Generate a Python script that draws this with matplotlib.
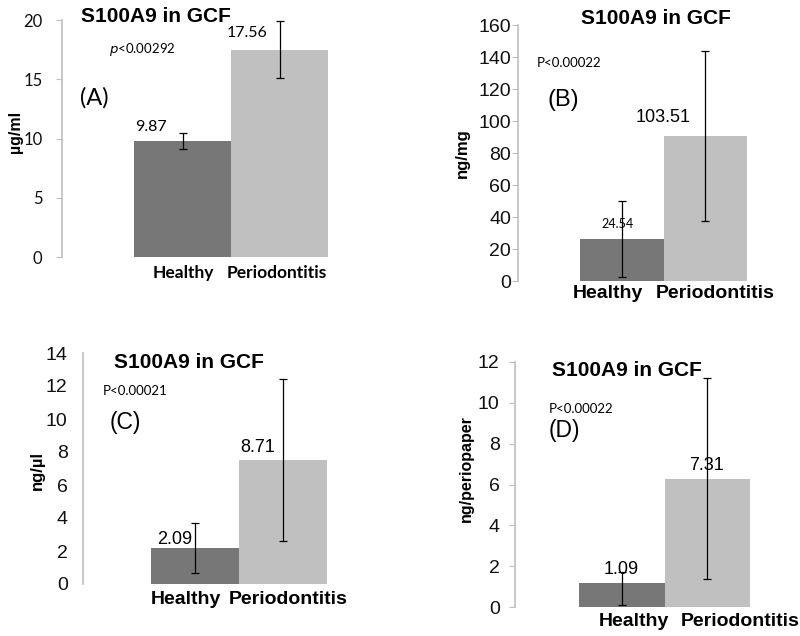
import numpy as np
import matplotlib.pyplot as plt

groups = ["Healthy", "Periodontitis"]

# (A) ug/ml
a_vals = [9.8, 17.5]
a_err_lo = [0.7, 2.4]
a_err_hi = [0.7, 2.4]
a_labels = ["9.87", "17.56"]
a_p = "$p$<0.00292"

# (B) ng/mg
b_vals = [26.2, 90.8]
b_err_lo = [24, 53]
b_err_hi = [24, 53]
b_labels = ["24.54", "103.51"]
b_p = "P<0.00022"

# (C) ng/ul
c_vals = [2.18, 7.53]
c_err_lo = [1.5, 4.9]
c_err_hi = [1.5, 4.9]
c_labels = ["2.09", "8.71"]
c_p = "P<0.00021"

# (D) ng/periopaper
d_vals = [1.18, 6.29]
d_err_lo = [1.1, 4.93]
d_err_hi = [0.53, 4.92]
d_labels = ["1.09", "7.31"]
d_p = "P<0.00022"

title = "S100A9 in GCF"
dark = "#777777"
light = "#c0c0c0"
axgrey = "#bfbfbf"

W, H = 800, 636
fig = plt.figure(figsize=(8, 6.36), dpi=100)


def fxy(x, y):
    return x / W, 1 - y / H


def panel(axis_x, bar_l, bar_r, y0, ytop, ymax, step, vals, lo, hi,
          font, tick_fs, tick_pad, ticklen):
    left, bottom = fxy(axis_x, y0)
    ax = fig.add_axes([left, bottom, (bar_r - axis_x) / W, (y0 - ytop) / H])
    unit = (bar_r - bar_l) / 2.0
    ax.set_xlim(-0.5 - (bar_l - axis_x) / unit, 1.5)
    ax.set_ylim(0, ymax)
    x = np.arange(len(groups))
    ax.bar(x, vals, width=1.0, color=[dark, light], edgecolor="none")
    ax.errorbar(x, vals, yerr=[lo, hi], fmt="none", ecolor="black",
                elinewidth=0.9, capsize=3, capthick=0.9)
    for s in ["top", "right", "bottom"]:
        ax.spines[s].set_visible(False)
    ax.spines["left"].set_color(axgrey)
    ax.spines["left"].set_linewidth(1.2)
    ax.set_yticks(np.arange(0, ymax + step / 2, step))
    ax.tick_params(axis="y", length=ticklen, color=axgrey, pad=tick_pad,
                   labelsize=tick_fs, labelcolor="#111111")
    for t in ax.get_yticklabels():
        t.set_fontfamily(font)
    ax.set_xticks([])
    ax.patch.set_alpha(0)
    return ax


def txt(x, y, s, size, family="Liberation Sans", **kw):
    fx, fy = fxy(x, y)
    fig.text(fx, fy, s, fontsize=size, family=family, ha="center",
             va="center", **kw)


def cats(xs, y, size, family="Liberation Sans"):
    for xc, g in zip(xs, groups):
        txt(xc, y, g, size, family=family, fontweight="bold")


# (A)
panel(62, 134, 328, 257, 20, 20, 5, a_vals, a_err_lo, a_err_hi,
      "Lato", 12, 10, 4)
txt(156, 16, title, 15, fontweight="bold")
txt(142, 49, a_p, 9.5, family="Lato")
txt(94, 98, "(A)", 17, family="Lato")
txt(151, 127, a_labels[0], 11.5, family="Lato")
txt(247, 33, a_labels[1], 11.5, family="Lato")
txt(15, 132, "µg/ml", 11.5, fontweight="bold", rotation=90)
cats([183, 277], 273, 12.5, family="Lato")

# (B)
panel(518, 580, 747, 281, 25, 160, 20, b_vals, b_err_lo, b_err_hi,
      "Liberation Sans", 14, 1, 4)
txt(656, 19, title, 15, fontweight="bold")
txt(569, 63, b_p, 9.5, family="Lato")
txt(563, 100, "(B)", 17)
txt(663, 118, b_labels[1], 13)
txt(618, 224, b_labels[0], 9, family="Lato")
txt(462, 153, "ng/mg", 12, fontweight="bold", rotation=90)
cats([608, 715], 294, 14)

# (C)
panel(83, 151, 327, 584, 353, 14, 2, c_vals, c_err_lo, c_err_hi,
      "Liberation Sans", 14, 11, 0)
txt(189, 362, title, 15, fontweight="bold")
txt(135, 391, c_p, 9.5, family="Lato")
txt(125, 423, "(C)", 16.5)
txt(258, 447, c_labels[1], 13)
txt(175, 539, c_labels[0], 13)
txt(37, 470, "ng/µl", 12, fontweight="bold", rotation=90)
cats([186, 288], 599, 14)

# (D)
panel(515, 579, 750, 607, 362, 12, 2, d_vals, d_err_lo, d_err_hi,
      "Liberation Sans", 14, 7, 4)
txt(627, 371, title, 15, fontweight="bold")
txt(581, 409, d_p, 9.5, family="Lato")
txt(564, 430, "(D)", 16.5)
txt(707, 465, d_labels[1], 13)
txt(621, 570, d_labels[0], 13)
txt(466, 469, "ng/periopaper", 11.5, fontweight="bold", rotation=90)
cats([634, 740], 622, 14)

fig.savefig("out.png", dpi=100)
